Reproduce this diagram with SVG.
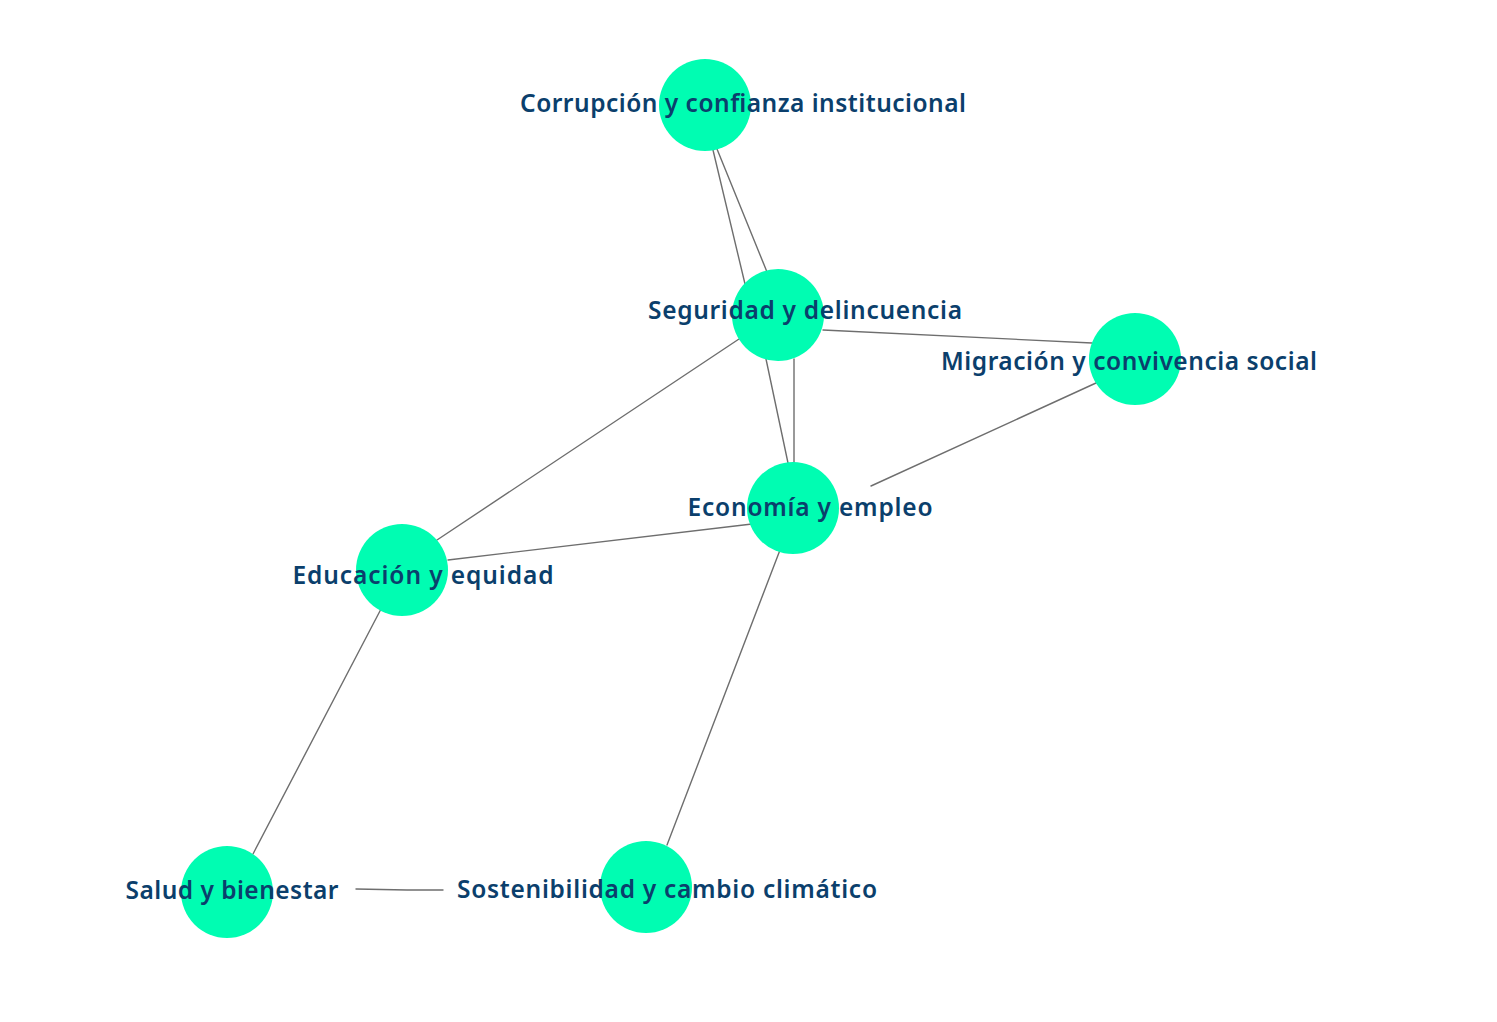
<svg xmlns="http://www.w3.org/2000/svg" width="1497" height="1022" viewBox="0 0 1497 1022">
<style>
.edge{stroke:#6e6e6e;stroke-width:1.4;fill:none;stroke-linecap:round}
.node circle{fill:#00fdb2}
.node text{font-family:"Noto Sans","Open Sans","DejaVu Sans",sans-serif;font-weight:600;font-size:24.5px;fill:#0b3f6c;text-anchor:middle}
</style>
<rect width="1497" height="1022" fill="#ffffff"/>
<g id="connectors">
<line class="edge" x1="713" y1="150" x2="745" y2="284"/>
<line class="edge" x1="717" y1="149" x2="767" y2="272"/>
<line class="edge" x1="823" y1="330" x2="1092" y2="343"/>
<line class="edge" x1="739" y1="339" x2="437" y2="540"/>
<line class="edge" x1="766" y1="359" x2="788" y2="463"/>
<line class="edge" x1="794" y1="359" x2="794" y2="463"/>
<line class="edge" x1="1096" y1="383" x2="871" y2="486"/>
<line class="edge" x1="448" y1="560" x2="752" y2="524"/>
<line class="edge" x1="381" y1="609" x2="253" y2="854"/>
<line class="edge" x1="780" y1="550" x2="667" y2="845"/>
<polyline class="edge" points="356,889 407,890 443,890"/>
</g>
<g id="node-corrupcion" class="node">
<circle cx="705" cy="105" r="46"/>
<text x="743" y="112" textLength="446">Corrupción y confianza institucional</text>
</g>
<g id="node-seguridad" class="node">
<circle cx="778" cy="315" r="46"/>
<text x="805" y="319" textLength="314">Seguridad y delincuencia</text>
</g>
<g id="node-migracion" class="node">
<circle cx="1135" cy="359" r="46"/>
<text x="1129" y="370" textLength="376">Migración y convivencia social</text>
</g>
<g id="node-economia" class="node">
<circle cx="793" cy="508" r="46"/>
<text x="810" y="516" textLength="245">Economía y empleo</text>
</g>
<g id="node-educacion" class="node">
<circle cx="402" cy="570" r="46"/>
<text x="423" y="584" textLength="261">Educación y equidad</text>
</g>
<g id="node-salud" class="node">
<circle cx="227" cy="892" r="46"/>
<text x="232" y="899" textLength="213">Salud y bienestar</text>
</g>
<g id="node-sostenibilidad" class="node">
<circle cx="646" cy="887" r="46"/>
<text x="667" y="898" textLength="420">Sostenibilidad y cambio climático</text>
</g>
</svg>
